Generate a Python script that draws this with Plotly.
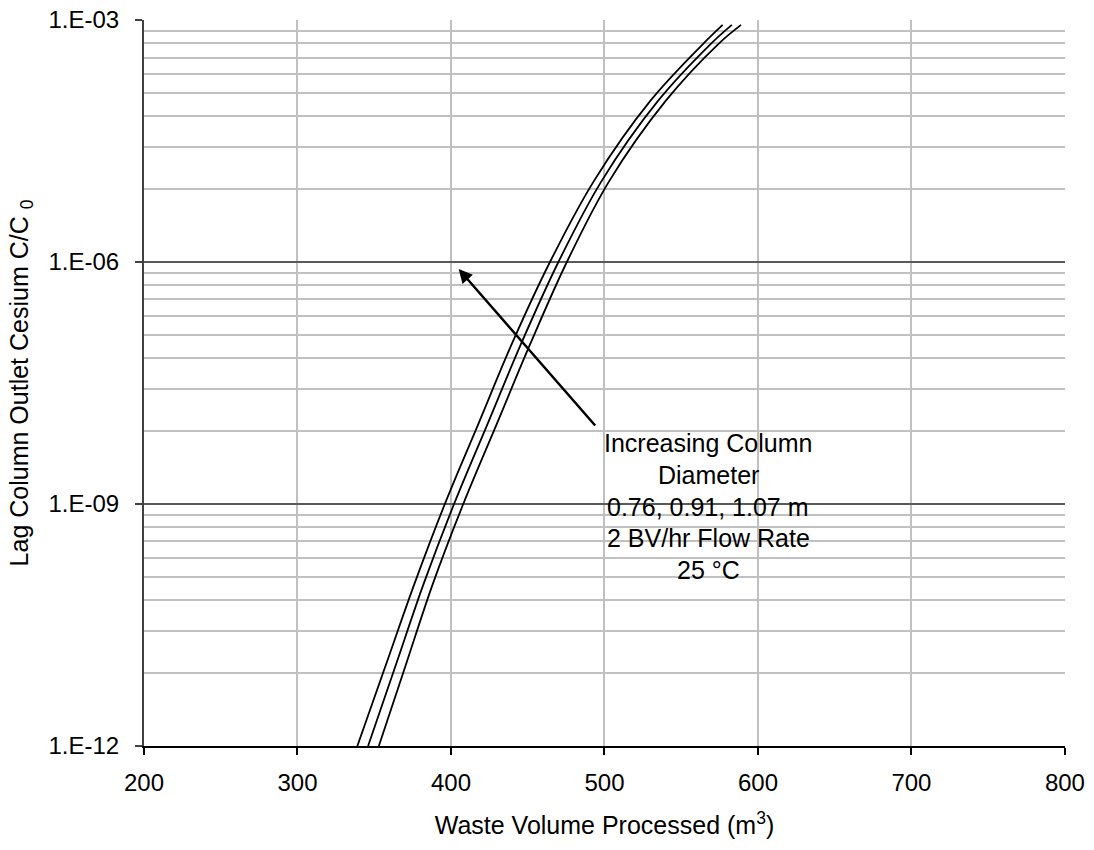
import plotly.graph_objects as go

# y-levels (C/C0) at which curve positions were read
c_over_c0 = [1e-12, 1e-11, 1e-10, 1e-9, 1e-8, 1e-7, 1e-6, 1e-5, 1e-4, 5e-4, 8.7e-4]
# waste volume processed (m3) for the three column diameters
vol_076 = [339, 357.5, 376, 396, 418, 440, 464.5, 493, 530, 564, 577]
vol_091 = [346, 364, 382, 402, 424, 446, 470, 498, 535, 569, 583]
vol_107 = [353, 370.5, 388, 408, 430, 452, 475.5, 503, 540, 574, 589]

x_ticks = [200, 300, 400, 500, 600, 700, 800]
y_tick_vals = [1e-12, 1e-9, 1e-6, 1e-3]
y_tick_text = ["1.E-12", "1.E-09", "1.E-06", "1.E-03"]

box_lines = ["Increasing Column", "Diameter", "0.76, 0.91, 1.07 m",
             "2 BV/hr Flow Rate", "25 \u00b0C"]

FONT = "Arial, Liberation Sans, sans-serif"

fig = go.Figure()
for xs in (vol_076, vol_091, vol_107):
    fig.add_trace(go.Scatter(x=xs, y=c_over_c0, mode="lines",
                             line=dict(color="black", width=1.8, shape="spline"),
                             showlegend=False, hoverinfo="skip"))

minor_vals = [b * k ** 3 for b in (1e-12, 1e-9, 1e-6) for k in range(2, 10)]

fig.update_layout(
    width=1094, height=850,
    margin=dict(l=144, r=29, t=20, b=104),
    paper_bgcolor="white", plot_bgcolor="white",
    font=dict(family=FONT, size=24, color="black"),
    showlegend=False,
    xaxis=dict(range=[200, 800.05], tickvals=x_ticks, showgrid=True,
               gridcolor="#c0c0c0", gridwidth=2, zeroline=False,
               showline=True, linecolor="black", linewidth=1.5,
               ticks="outside", ticklen=7, tickcolor="black", tickwidth=1.5,
               ticklabelstandoff=7, automargin=False,
               ticklabeloverflow="allow",
               title=dict(text="Waste Volume Processed (m<sup>3</sup>)",
                          font=dict(size=25), standoff=22)),
    yaxis=dict(type="log", range=[-12.0004, -2.9996], tickvals=y_tick_vals,
               ticktext=y_tick_text, showgrid=True, gridcolor="#5a5a5a",
               gridwidth=1.5, zeroline=False,
               showline=True, linecolor="#404040", linewidth=2,
               ticks="outside", ticklen=7, tickcolor="#404040", tickwidth=1.5,
               ticklabelstandoff=11, automargin=False,
               ticklabeloverflow="allow",
               minor=dict(tickvals=minor_vals, showgrid=True,
                          gridcolor="#c0c0c0", gridwidth=2, ticks=""),
               title=dict(text="Lag Column Outlet Cesium C/C <sub>0</sub>",
                          font=dict(size=25), standoff=13)),
)

# annotation box
fig.add_shape(type="rect", xref="x", yref="y", x0=494.8, x1=640.6,
              y0=-10.09, y1=-8.045, line=dict(color="black", width=2),
              fillcolor="white", layer="above")

line_y = [-8.244, -8.64, -9.037, -9.421, -9.818]
for txt, ly in zip(box_lines, line_y):
    fig.add_annotation(x=567.7, y=ly, xref="x", yref="y", text=txt,
                       showarrow=False, font=dict(size=25, color="black"),
                       xanchor="center", yanchor="middle")

# arrow
fig.add_annotation(x=405, y=-6.087, xref="x", yref="y",
                   ax=494.8, ay=-8.045, axref="x", ayref="y",
                   text="", showarrow=True, arrowhead=2, arrowsize=1.1,
                   arrowwidth=2.5, arrowcolor="black", standoff=0,
                   startstandoff=0)

fig.write_html("out.html",
               config={"displayModeBar": False},
               post_script="document.body.style.margin='0px';"
                           "document.body.style.overflow='hidden';")
